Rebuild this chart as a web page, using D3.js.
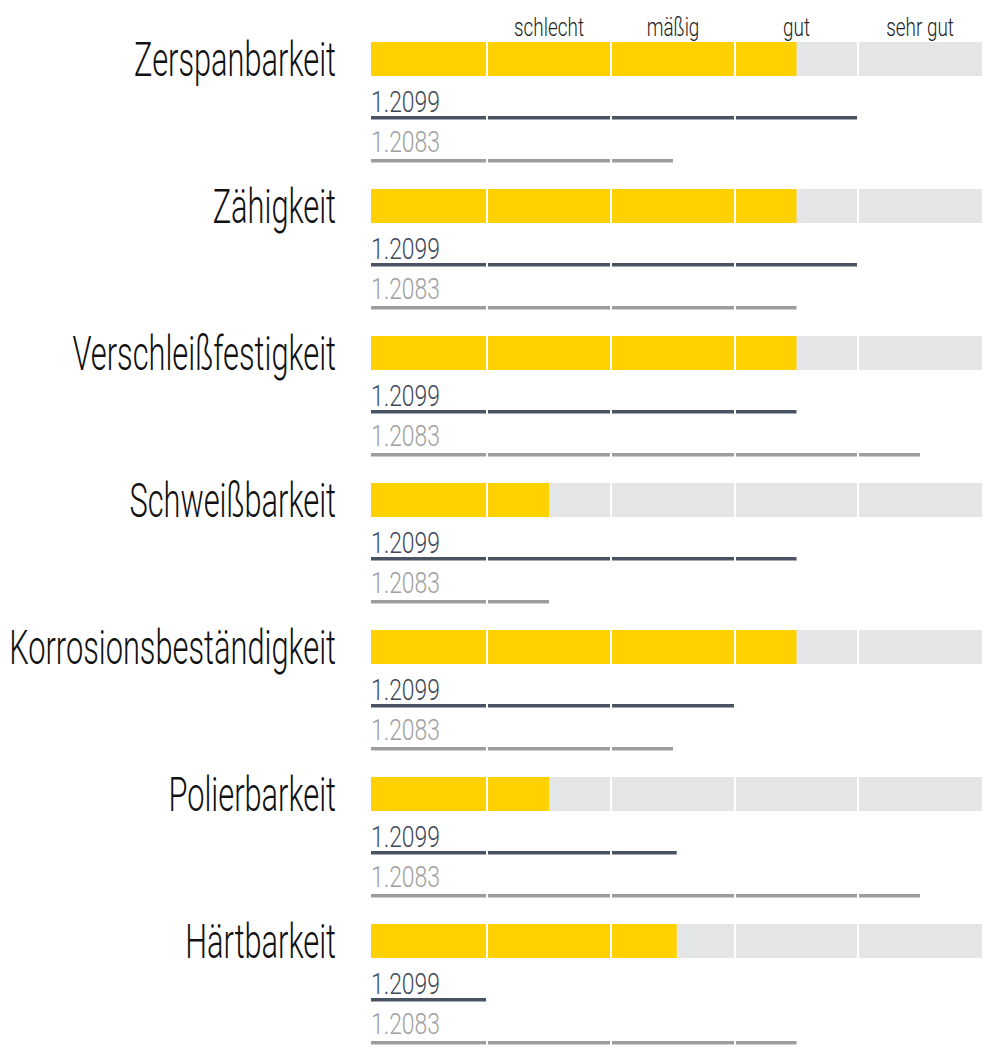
<!DOCTYPE html>
<html>
<head>
<meta charset="utf-8">
<script src="https://cdn.jsdelivr.net/npm/d3@7"></script>
<style>
  html, body { margin: 0; padding: 0; background: #fff; }
  svg { display: block; }
  text { font-family: Roboto, "Liberation Sans Narrow", "DejaVu Sans Condensed", sans-serif; font-weight: 300; }
</style>
</head>
<body>
<svg id="chart" width="1000" height="1057"></svg>
<script>
// ---- data ----
const categories = ["Zerspanbarkeit", "Zähigkeit", "Verschleißfestigkeit", "Schweißbarkeit", "Korrosionsbeständigkeit", "Polierbarkeit", "Härtbarkeit"];
const scaleLabels = ["schlecht", "mäßig", "gut", "sehr gut"];
const seriesNames = ["1.2099", "1.2083"];
const mainValues = [3.5, 3.5, 3.5, 1.5, 3.5, 1.5, 2.53];
const values1_2099 = [4, 4, 3.5, 3.5, 3, 2.53, 1];
const values1_2083 = [2.5, 3.5, 4.5, 1.5, 2.5, 4.5, 3.5];

// ---- layout ----
const svg = d3.select("#chart");
const x = d3.scaleLinear().domain([0, 1, 2, 3, 4, 5]).range([371, 487, 611, 735, 858, 982]);
const rowY = d3.scaleLinear().domain([0, 1]).range([42, 189]);
const segments = d3.range(5);
const barH = 34;

const colors = { main: "#ffd100", bg: "#e4e5e7", s1: "#4a5361", s2: "#9d9d9d", s1Text: "#3e4858", s2Text: "#a0a0a0" };

function segStart(i) { return i === 0 ? x(0) : x(i) + 1; }
function segEnd(i) { return i === 4 ? x(5) : x(i + 1) - 1; }

function fitScale(sel, target) {
  const len = sel.node().getComputedTextLength();
  return target / len;
}

// header labels
const headerG = svg.append("g");
const hdr = headerG.selectAll("text").data(scaleLabels).join("text")
  .attr("font-size", 25).attr("fill", "#1e1e1e").attr("text-anchor", "middle")
  .text(d => d);
const hSx = fitScale(hdr.filter((d, i) => i === 0), 70);
hdr.attr("transform", (d, i) => `translate(${(x(i + 1) + x(i + 2)) / 2},36) scale(${hSx},1)`);

// category labels
const catText = svg.append("g").selectAll("text").data(categories).join("text")
  .attr("font-size", 47.5).attr("fill", "#111").attr("text-anchor", "end")
  .text(d => d);
const cSx = fitScale(catText.filter((d, i) => i === 0), 202);
catText.attr("transform", (d, i) => `translate(336,${rowY(i) + barH}) scale(${cSx},1)`);

// bars
categories.forEach((cat, r) => {
  const g = svg.append("g");
  const y0 = rowY(r);
  // background segments
  g.selectAll("rect.bg").data(segments).join("rect").attr("class", "bg")
    .attr("x", i => segStart(i)).attr("y", y0)
    .attr("width", i => segEnd(i) - segStart(i)).attr("height", barH)
    .attr("fill", colors.bg);
  // filled segments
  const v = mainValues[r];
  g.selectAll("rect.fill").data(segments.filter(i => x(v) > segStart(i))).join("rect").attr("class", "fill")
    .attr("x", i => segStart(i)).attr("y", y0)
    .attr("width", i => Math.min(segEnd(i), x(v)) - segStart(i)).attr("height", barH)
    .attr("fill", colors.main);

  // series lines
  [[values1_2099, colors.s1, colors.s1Text, 74, 70], [values1_2083, colors.s2, colors.s2Text, 117, 110]].forEach(([vals, col, tcol, off, toff], k) => {
    const sv = vals[r];
    g.selectAll("rect.s" + k).data(segments.filter(i => x(sv) > segStart(i))).join("rect").attr("class", "s" + k)
      .attr("x", i => segStart(i)).attr("y", y0 + off)
      .attr("width", i => Math.min(segEnd(i), x(sv)) - segStart(i)).attr("height", 3.5)
      .attr("fill", col);
    const t = g.append("text").attr("font-size", 30).attr("fill", tcol).text(seriesNames[k]);
    const sx = fitScale(t, 69);
    t.attr("transform", `translate(371,${y0 + toff}) scale(${sx},1)`);
  });
});
</script>
</body>
</html>
